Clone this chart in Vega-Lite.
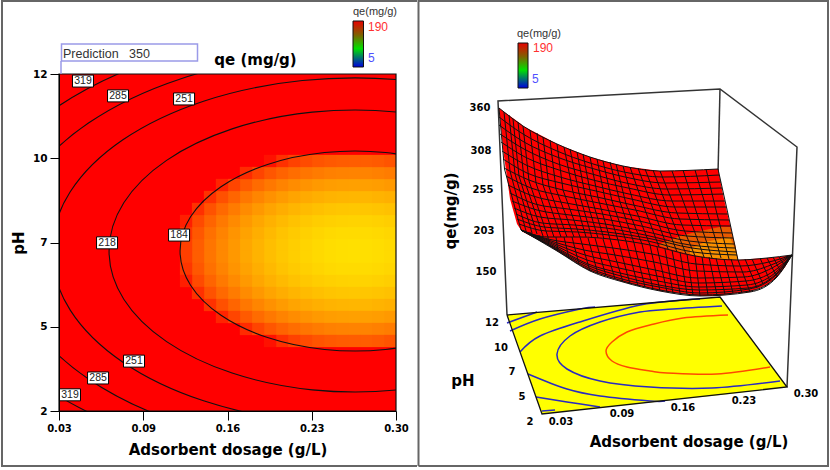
{"$schema":"https://vega.github.io/schema/vega-lite/v6.json","padding":{"left":-3,"top":-3,"right":0,"bottom":0},"spacing":21,"bounds":"flush","background":"white","config":{"font":"Liberation Sans"},
"datasets":{
"cells":[
{"d":0.2952,"p":6.93,"q":151.5},{"d":0.2856,"p":6.93,"q":150.7},{"d":0.276,"p":6.93,"q":150.3},{"d":0.2664,"p":6.93,"q":150.1},{"d":0.2568,"p":6.93,"q":150.3},{"d":0.2472,"p":6.93,"q":150.8},{"d":0.2375,"p":6.93,"q":151.6},{"d":0.2279,"p":6.93,"q":152.8},{"d":0.2183,"p":6.93,"q":154.3},{"d":0.2087,"p":6.93,"q":156},{"d":0.1991,"p":6.93,"q":158.1},{"d":0.1895,"p":6.93,"q":160.6},{"d":0.1798,"p":6.93,"q":163.3},{"d":0.1702,"p":6.93,"q":166.4},{"d":0.1606,"p":6.93,"q":169.8},{"d":0.151,"p":6.93,"q":173.5},{"d":0.1414,"p":6.93,"q":177.5},{"d":0.1318,"p":6.93,"q":181.8},
{"d":0.2952,"p":6.57,"q":151.5},{"d":0.2856,"p":6.57,"q":150.7},{"d":0.276,"p":6.57,"q":150.3},{"d":0.2664,"p":6.57,"q":150.1},{"d":0.2568,"p":6.57,"q":150.3},{"d":0.2472,"p":6.57,"q":150.8},{"d":0.2375,"p":6.57,"q":151.6},{"d":0.2279,"p":6.57,"q":152.8},{"d":0.2183,"p":6.57,"q":154.3},{"d":0.2087,"p":6.57,"q":156},{"d":0.1991,"p":6.57,"q":158.1},{"d":0.1895,"p":6.57,"q":160.6},{"d":0.1798,"p":6.57,"q":163.3},{"d":0.1702,"p":6.57,"q":166.4},{"d":0.1606,"p":6.57,"q":169.8},{"d":0.151,"p":6.57,"q":173.5},{"d":0.1414,"p":6.57,"q":177.5},{"d":0.1318,"p":6.57,"q":181.8},
{"d":0.2952,"p":7.282,"q":152.5},{"d":0.2856,"p":7.282,"q":151.7},{"d":0.276,"p":7.282,"q":151.2},{"d":0.2664,"p":7.282,"q":151.1},{"d":0.2568,"p":7.282,"q":151.3},{"d":0.2472,"p":7.282,"q":151.8},{"d":0.2375,"p":7.282,"q":152.6},{"d":0.2279,"p":7.282,"q":153.8},{"d":0.2183,"p":7.282,"q":155.2},{"d":0.2087,"p":7.282,"q":157},{"d":0.1991,"p":7.282,"q":159.1},{"d":0.1895,"p":7.282,"q":161.6},{"d":0.1798,"p":7.282,"q":164.3},{"d":0.1702,"p":7.282,"q":167.4},{"d":0.1606,"p":7.282,"q":170.7},{"d":0.151,"p":7.282,"q":174.4},{"d":0.1414,"p":7.282,"q":178.5},{"d":0.1318,"p":7.282,"q":182.8},
{"d":0.2952,"p":6.214,"q":152.5},{"d":0.2856,"p":6.214,"q":151.7},{"d":0.276,"p":6.214,"q":151.2},{"d":0.2664,"p":6.214,"q":151.1},{"d":0.2568,"p":6.214,"q":151.3},{"d":0.2472,"p":6.214,"q":151.8},{"d":0.2375,"p":6.214,"q":152.6},{"d":0.2279,"p":6.214,"q":153.8},{"d":0.2183,"p":6.214,"q":155.2},{"d":0.2087,"p":6.214,"q":157},{"d":0.1991,"p":6.214,"q":159.1},{"d":0.1895,"p":6.214,"q":161.6},{"d":0.1798,"p":6.214,"q":164.3},{"d":0.1702,"p":6.214,"q":167.4},{"d":0.1606,"p":6.214,"q":170.7},{"d":0.151,"p":6.214,"q":174.4},{"d":0.1414,"p":6.214,"q":178.5},{"d":0.1318,"p":6.214,"q":182.8},
{"d":0.2952,"p":7.638,"q":154.4},{"d":0.2856,"p":7.638,"q":153.7},{"d":0.276,"p":7.638,"q":153.2},{"d":0.2664,"p":7.638,"q":153.1},{"d":0.2568,"p":7.638,"q":153.3},{"d":0.2472,"p":7.638,"q":153.8},{"d":0.2375,"p":7.638,"q":154.6},{"d":0.2279,"p":7.638,"q":155.7},{"d":0.2183,"p":7.638,"q":157.2},{"d":0.2087,"p":7.638,"q":159},{"d":0.1991,"p":7.638,"q":161.1},{"d":0.1895,"p":7.638,"q":163.5},{"d":0.1798,"p":7.638,"q":166.3},{"d":0.1702,"p":7.638,"q":169.3},{"d":0.1606,"p":7.638,"q":172.7},{"d":0.151,"p":7.638,"q":176.4},{"d":0.1414,"p":7.638,"q":180.4},{"d":0.1318,"p":7.638,"q":184.8},
{"d":0.2952,"p":5.858,"q":154.4},{"d":0.2856,"p":5.858,"q":153.7},{"d":0.276,"p":5.858,"q":153.2},{"d":0.2664,"p":5.858,"q":153.1},{"d":0.2568,"p":5.858,"q":153.3},{"d":0.2472,"p":5.858,"q":153.8},{"d":0.2375,"p":5.858,"q":154.6},{"d":0.2279,"p":5.858,"q":155.7},{"d":0.2183,"p":5.858,"q":157.2},{"d":0.2087,"p":5.858,"q":159},{"d":0.1991,"p":5.858,"q":161.1},{"d":0.1895,"p":5.858,"q":163.5},{"d":0.1798,"p":5.858,"q":166.3},{"d":0.1702,"p":5.858,"q":169.3},{"d":0.1606,"p":5.858,"q":172.7},{"d":0.151,"p":5.858,"q":176.4},{"d":0.1414,"p":5.858,"q":180.4},{"d":0.1318,"p":5.858,"q":184.8},
{"d":0.2952,"p":7.994,"q":157.4},{"d":0.2856,"p":7.994,"q":156.6},{"d":0.276,"p":7.994,"q":156.1},{"d":0.2664,"p":7.994,"q":156},{"d":0.2568,"p":7.994,"q":156.2},{"d":0.2472,"p":7.994,"q":156.7},{"d":0.2375,"p":7.994,"q":157.5},{"d":0.2279,"p":7.994,"q":158.7},{"d":0.2183,"p":7.994,"q":160.1},{"d":0.2087,"p":7.994,"q":161.9},{"d":0.1991,"p":7.994,"q":164},{"d":0.1895,"p":7.994,"q":166.5},{"d":0.1798,"p":7.994,"q":169.2},{"d":0.1702,"p":7.994,"q":172.3},{"d":0.1606,"p":7.994,"q":175.6},{"d":0.151,"p":7.994,"q":179.3},{"d":0.1414,"p":7.994,"q":183.4},
{"d":0.2952,"p":5.502,"q":157.4},{"d":0.2856,"p":5.502,"q":156.6},{"d":0.276,"p":5.502,"q":156.1},{"d":0.2664,"p":5.502,"q":156},{"d":0.2568,"p":5.502,"q":156.2},{"d":0.2472,"p":5.502,"q":156.7},{"d":0.2375,"p":5.502,"q":157.5},{"d":0.2279,"p":5.502,"q":158.7},{"d":0.2183,"p":5.502,"q":160.1},{"d":0.2087,"p":5.502,"q":161.9},{"d":0.1991,"p":5.502,"q":164},{"d":0.1895,"p":5.502,"q":166.5},{"d":0.1798,"p":5.502,"q":169.2},{"d":0.1702,"p":5.502,"q":172.3},{"d":0.1606,"p":5.502,"q":175.6},{"d":0.151,"p":5.502,"q":179.3},{"d":0.1414,"p":5.502,"q":183.4},
{"d":0.2952,"p":8.35,"q":161.3},{"d":0.2856,"p":8.35,"q":160.5},{"d":0.276,"p":8.35,"q":160},{"d":0.2664,"p":8.35,"q":159.9},{"d":0.2568,"p":8.35,"q":160.1},{"d":0.2472,"p":8.35,"q":160.6},{"d":0.2375,"p":8.35,"q":161.4},{"d":0.2279,"p":8.35,"q":162.6},{"d":0.2183,"p":8.35,"q":164},{"d":0.2087,"p":8.35,"q":165.8},{"d":0.1991,"p":8.35,"q":167.9},{"d":0.1895,"p":8.35,"q":170.4},{"d":0.1798,"p":8.35,"q":173.1},{"d":0.1702,"p":8.35,"q":176.2},{"d":0.1606,"p":8.35,"q":179.6},{"d":0.151,"p":8.35,"q":183.3},
{"d":0.2952,"p":5.146,"q":161.3},{"d":0.2856,"p":5.146,"q":160.5},{"d":0.276,"p":5.146,"q":160},{"d":0.2664,"p":5.146,"q":159.9},{"d":0.2568,"p":5.146,"q":160.1},{"d":0.2472,"p":5.146,"q":160.6},{"d":0.2375,"p":5.146,"q":161.4},{"d":0.2279,"p":5.146,"q":162.6},{"d":0.2183,"p":5.146,"q":164},{"d":0.2087,"p":5.146,"q":165.8},{"d":0.1991,"p":5.146,"q":167.9},{"d":0.1895,"p":5.146,"q":170.4},{"d":0.1798,"p":5.146,"q":173.1},{"d":0.1702,"p":5.146,"q":176.2},{"d":0.1606,"p":5.146,"q":179.6},{"d":0.151,"p":5.146,"q":183.3},
{"d":0.2952,"p":8.706,"q":166.2},{"d":0.2856,"p":8.706,"q":165.4},{"d":0.276,"p":8.706,"q":164.9},{"d":0.2664,"p":8.706,"q":164.8},{"d":0.2568,"p":8.706,"q":165},{"d":0.2472,"p":8.706,"q":165.5},{"d":0.2375,"p":8.706,"q":166.3},{"d":0.2279,"p":8.706,"q":167.5},{"d":0.2183,"p":8.706,"q":168.9},{"d":0.2087,"p":8.706,"q":170.7},{"d":0.1991,"p":8.706,"q":172.8},{"d":0.1895,"p":8.706,"q":175.3},{"d":0.1798,"p":8.706,"q":178},{"d":0.1702,"p":8.706,"q":181},{"d":0.1606,"p":8.706,"q":184.4},
{"d":0.2952,"p":4.79,"q":166.2},{"d":0.2856,"p":4.79,"q":165.4},{"d":0.276,"p":4.79,"q":164.9},{"d":0.2664,"p":4.79,"q":164.8},{"d":0.2568,"p":4.79,"q":165},{"d":0.2472,"p":4.79,"q":165.5},{"d":0.2375,"p":4.79,"q":166.3},{"d":0.2279,"p":4.79,"q":167.5},{"d":0.2183,"p":4.79,"q":168.9},{"d":0.2087,"p":4.79,"q":170.7},{"d":0.1991,"p":4.79,"q":172.8},{"d":0.1895,"p":4.79,"q":175.3},{"d":0.1798,"p":4.79,"q":178},{"d":0.1702,"p":4.79,"q":181},{"d":0.1606,"p":4.79,"q":184.4},
{"d":0.2952,"p":9.062,"q":172.1},{"d":0.2856,"p":9.062,"q":171.3},{"d":0.276,"p":9.062,"q":170.8},{"d":0.2664,"p":9.062,"q":170.7},{"d":0.2568,"p":9.062,"q":170.9},{"d":0.2472,"p":9.062,"q":171.4},{"d":0.2375,"p":9.062,"q":172.2},{"d":0.2279,"p":9.062,"q":173.4},{"d":0.2183,"p":9.062,"q":174.8},{"d":0.2087,"p":9.062,"q":176.6},{"d":0.1991,"p":9.062,"q":178.7},{"d":0.1895,"p":9.062,"q":181.2},{"d":0.1798,"p":9.062,"q":183.9},
{"d":0.2952,"p":4.434,"q":172.1},{"d":0.2856,"p":4.434,"q":171.3},{"d":0.276,"p":4.434,"q":170.8},{"d":0.2664,"p":4.434,"q":170.7},{"d":0.2568,"p":4.434,"q":170.9},{"d":0.2472,"p":4.434,"q":171.4},{"d":0.2375,"p":4.434,"q":172.2},{"d":0.2279,"p":4.434,"q":173.4},{"d":0.2183,"p":4.434,"q":174.8},{"d":0.2087,"p":4.434,"q":176.6},{"d":0.1991,"p":4.434,"q":178.7},{"d":0.1895,"p":4.434,"q":181.2},{"d":0.1798,"p":4.434,"q":183.9},
{"d":0.2952,"p":9.418,"q":178.9},{"d":0.2856,"p":9.418,"q":178.1},{"d":0.276,"p":9.418,"q":177.6},{"d":0.2664,"p":9.418,"q":177.5},{"d":0.2568,"p":9.418,"q":177.7},{"d":0.2472,"p":9.418,"q":178.2},{"d":0.2375,"p":9.418,"q":179},{"d":0.2279,"p":9.418,"q":180.2},{"d":0.2183,"p":9.418,"q":181.6},{"d":0.2087,"p":9.418,"q":183.4},{"d":0.1991,"p":9.418,"q":185.5},
{"d":0.2952,"p":4.078,"q":178.9},{"d":0.2856,"p":4.078,"q":178.1},{"d":0.276,"p":4.078,"q":177.6},{"d":0.2664,"p":4.078,"q":177.5},{"d":0.2568,"p":4.078,"q":177.7},{"d":0.2472,"p":4.078,"q":178.2},{"d":0.2375,"p":4.078,"q":179},{"d":0.2279,"p":4.078,"q":180.2},{"d":0.2183,"p":4.078,"q":181.6},{"d":0.2087,"p":4.078,"q":183.4},{"d":0.1991,"p":4.078,"q":185.5}
],
"contours":[
{"l":184,"n":0,"d":0.3373,"p":9.317},{"l":184,"n":1,"d":0.2916,"p":9.671},{"l":184,"n":2,"d":0.2428,"p":9.671},{"l":184,"n":3,"d":0.1971,"p":9.317},{"l":184,"n":4,"d":0.1598,"p":8.656},{"l":184,"n":5,"d":0.1354,"p":7.763},{"l":184,"n":6,"d":0.127,"p":6.748},{"l":184,"n":7,"d":0.1354,"p":5.733},{"l":184,"n":8,"d":0.1598,"p":4.84},{"l":184,"n":9,"d":0.1971,"p":4.179},{"l":184,"n":10,"d":0.2428,"p":3.825},{"l":184,"n":11,"d":0.2916,"p":3.825},{"l":184,"n":12,"d":0.3373,"p":4.179},
{"l":218,"n":0,"d":0.3658,"p":10.371},{"l":218,"n":1,"d":0.3015,"p":10.869},{"l":218,"n":2,"d":0.2329,"p":10.869},{"l":218,"n":3,"d":0.1687,"p":10.371},{"l":218,"n":4,"d":0.1162,"p":9.438},{"l":218,"n":5,"d":0.0819,"p":8.179},{"l":218,"n":6,"d":0.0701,"p":6.748},{"l":218,"n":7,"d":0.0819,"p":5.317},{"l":218,"n":8,"d":0.1162,"p":4.058},{"l":218,"n":9,"d":0.1687,"p":3.125},{"l":218,"n":10,"d":0.2329,"p":2.627},{"l":218,"n":11,"d":0.3015,"p":2.627},{"l":218,"n":12,"d":0.3658,"p":3.125},
{"l":251,"n":0,"d":0.3886,"p":11.194},{"l":251,"n":1,"d":0.3094,"p":11.805},{"l":251,"n":2,"d":0.225,"p":11.805},{"l":251,"n":3,"d":0.1458,"p":11.194},{"l":251,"n":4,"d":0.0812,"p":10.049},{"l":251,"n":5,"d":0.039,"p":8.504},{"l":251,"n":6,"d":0.0244,"p":6.748},{"l":251,"n":7,"d":0.039,"p":4.992},{"l":251,"n":8,"d":0.0812,"p":3.447},{"l":251,"n":9,"d":0.1458,"p":2.302},{"l":251,"n":10,"d":0.225,"p":1.691},{"l":251,"n":11,"d":0.3094,"p":1.691},{"l":251,"n":12,"d":0.3886,"p":2.302},
{"l":285,"n":0,"d":0.4066,"p":11.862},{"l":285,"n":1,"d":0.3157,"p":12.564},{"l":285,"n":2,"d":0.2187,"p":12.564},{"l":285,"n":3,"d":0.1278,"p":11.862},{"l":285,"n":4,"d":0.0536,"p":10.545},{"l":285,"n":5,"d":0.0051,"p":8.768},{"l":285,"n":6,"d":-0.0116,"p":6.748},{"l":285,"n":7,"d":0.0051,"p":4.728},{"l":285,"n":8,"d":0.0536,"p":2.951},{"l":285,"n":9,"d":0.1278,"p":1.634},{"l":285,"n":10,"d":0.2187,"p":0.932},
{"l":319,"n":0,"d":0.2128,"p":13.266},{"l":319,"n":1,"d":0.111,"p":12.478},{"l":319,"n":2,"d":0.0278,"p":11.002},{"l":319,"n":3,"d":-0.0266,"p":9.011},{"l":319,"n":4,"d":-0.0453,"p":6.748},{"l":319,"n":5,"d":-0.0266,"p":4.485},{"l":319,"n":6,"d":0.0278,"p":2.494},{"l":319,"n":7,"d":0.111,"p":1.018}
],
"mesh":[
{"l":"c0","x":499,"y":109},{"l":"c0","x":504.5,"y":170},{"l":"c0","x":521,"y":231},{"l":"c1","x":504,"y":113},{"l":"c1","x":510,"y":172},{"l":"c1","x":526,"y":232},{"l":"c2","x":509,"y":116},{"l":"c2","x":515,"y":175},{"l":"c2","x":532,"y":234},{"l":"c3","x":513,"y":120},{"l":"c3","x":519,"y":177},{"l":"c3","x":537,"y":235},{"l":"c4","x":518,"y":123},{"l":"c4","x":524,"y":180},{"l":"c4","x":543,"y":237},{"l":"c5","x":523,"y":127},{"l":"c5","x":529,"y":182},{"l":"c5","x":548,"y":238},{"l":"c6","x":530,"y":131},{"l":"c6","x":536,"y":184},{"l":"c6","x":554,"y":238},{"l":"c7","x":537,"y":134},{"l":"c7","x":543,"y":186},{"l":"c7","x":561,"y":238},{"l":"c8","x":543,"y":138},{"l":"c8","x":549,"y":188},{"l":"c8","x":567,"y":238},{"l":"c9","x":550,"y":141},{"l":"c9","x":556,"y":190},{"l":"c9","x":574,"y":238},{"l":"c10","x":557,"y":145},{"l":"c10","x":563,"y":191},{"l":"c10","x":580,"y":238},{"l":"c11","x":564,"y":148},{"l":"c11","x":573,"y":193},{"l":"c11","x":586,"y":238},{"l":"c12","x":570,"y":150},{"l":"c12","x":579,"y":194},{"l":"c12","x":592,"y":239},{"l":"c13","x":577,"y":153},{"l":"c13","x":585,"y":196},{"l":"c13","x":598,"y":239},{"l":"c14","x":583,"y":155},{"l":"c14","x":591,"y":197},{"l":"c14","x":604,"y":240},{"l":"c15","x":590,"y":158},{"l":"c15","x":598,"y":199},{"l":"c15","x":610,"y":240},{"l":"c16","x":597,"y":160},{"l":"c16","x":605,"y":200},{"l":"c16","x":618,"y":241},{"l":"c17","x":603,"y":162},{"l":"c17","x":612,"y":202},{"l":"c17","x":626,"y":242},{"l":"c18","x":610,"y":163},{"l":"c18","x":620,"y":203},{"l":"c18","x":634,"y":244},{"l":"c19","x":616,"y":165},{"l":"c19","x":626,"y":205},{"l":"c19","x":642,"y":245},{"l":"c20","x":623,"y":167},{"l":"c20","x":634,"y":206},{"l":"c20","x":650,"y":246},{"l":"c21","x":630,"y":168},{"l":"c21","x":644,"y":208},{"l":"c21","x":659,"y":248},{"l":"c22","x":638,"y":169},{"l":"c22","x":653,"y":210},{"l":"c22","x":668,"y":250},{"l":"c23","x":645,"y":170},{"l":"c23","x":661,"y":211},{"l":"c23","x":677,"y":253},{"l":"c24","x":653,"y":171},{"l":"c24","x":669,"y":213},{"l":"c24","x":686,"y":255},{"l":"c25","x":660,"y":172},{"l":"c25","x":677,"y":214},{"l":"c25","x":695,"y":257},{"l":"c26","x":672,"y":172},{"l":"c26","x":688,"y":215},{"l":"c26","x":704,"y":258},{"l":"c27","x":683,"y":171},{"l":"c27","x":697,"y":215},{"l":"c27","x":712,"y":259},{"l":"c28","x":695,"y":171},{"l":"c28","x":708,"y":215},{"l":"c28","x":721,"y":259},{"l":"c29","x":706,"y":170},{"l":"c29","x":717,"y":215},{"l":"c29","x":729,"y":260},{"l":"c30","x":718,"y":170},{"l":"c30","x":728,"y":215},{"l":"c30","x":738,"y":261},
{"l":"f1","x":530,"y":233},{"l":"f1","x":530.5,"y":236},{"l":"f2","x":539,"y":236},{"l":"f2","x":539.5,"y":241},{"l":"f3","x":548,"y":238},{"l":"f3","x":548.5,"y":246},{"l":"f4","x":556,"y":238},{"l":"f4","x":558,"y":252},{"l":"f5","x":564,"y":238},{"l":"f5","x":569,"y":259},{"l":"f6","x":572,"y":238},{"l":"f6","x":579,"y":265},{"l":"f7","x":580,"y":238},{"l":"f7","x":590,"y":272},{"l":"f8","x":588,"y":239},{"l":"f8","x":598,"y":275},{"l":"f9","x":595,"y":239},{"l":"f9","x":606,"y":277},{"l":"f10","x":603,"y":240},{"l":"f10","x":615,"y":280},{"l":"f11","x":610,"y":240},{"l":"f11","x":623,"y":283},{"l":"f12","x":618,"y":241},{"l":"f12","x":630,"y":285},{"l":"f13","x":626,"y":242},{"l":"f13","x":638,"y":287},{"l":"f14","x":634,"y":244},{"l":"f14","x":645,"y":288},{"l":"f15","x":642,"y":245},{"l":"f15","x":653,"y":290},{"l":"f16","x":650,"y":246},{"l":"f16","x":660,"y":292},{"l":"f17","x":657,"y":248},{"l":"f17","x":667,"y":293},{"l":"f18","x":665,"y":250},{"l":"f18","x":673,"y":294},{"l":"f19","x":672,"y":251},{"l":"f19","x":680,"y":294},{"l":"f20","x":680,"y":253},{"l":"f20","x":687,"y":295},{"l":"f21","x":687,"y":255},{"l":"f21","x":693,"y":296},{"l":"f22","x":695,"y":257},{"l":"f22","x":700,"y":297},{"l":"f23","x":702,"y":258},{"l":"f23","x":708,"y":296},{"l":"f24","x":709,"y":258},{"l":"f24","x":717,"y":296},{"l":"f25","x":716,"y":259},{"l":"f25","x":725,"y":295},{"l":"f26","x":724,"y":260},{"l":"f26","x":733,"y":294},{"l":"f27","x":731,"y":260},{"l":"f27","x":742,"y":294},{"l":"f28","x":738,"y":261},{"l":"f28","x":750,"y":293},{"l":"f29","x":745,"y":260},{"l":"f29","x":757,"y":289},{"l":"f30","x":752,"y":260},{"l":"f30","x":763,"y":285},{"l":"f31","x":760,"y":259},{"l":"f31","x":770,"y":282},{"l":"f32","x":767,"y":259},{"l":"f32","x":777,"y":278},{"l":"f33","x":773,"y":258},{"l":"f33","x":781,"y":273},{"l":"f34","x":779,"y":258},{"l":"f34","x":785,"y":267},{"l":"f35","x":786,"y":257},{"l":"f35","x":788,"y":262}
],
"meshRows":[
{"l":"r0","x":499,"y":109},{"l":"r0","x":523,"y":127},{"l":"r0","x":557,"y":145},{"l":"r0","x":590,"y":158},{"l":"r0","x":623,"y":167},{"l":"r0","x":660,"y":172},{"l":"r0","x":718,"y":170},
{"l":"r1","x":499,"y":118},{"l":"r1","x":523,"y":135},{"l":"r1","x":557,"y":152},{"l":"r1","x":590,"y":164},{"l":"r1","x":624,"y":173},{"l":"r1","x":662,"y":178},{"l":"r1","x":719,"y":176},
{"l":"r2","x":499,"y":126},{"l":"r2","x":524,"y":143},{"l":"r2","x":557,"y":158},{"l":"r2","x":591,"y":169},{"l":"r2","x":625,"y":178},{"l":"r2","x":665,"y":184},{"l":"r2","x":721,"y":183},
{"l":"r3","x":500,"y":135},{"l":"r3","x":524,"y":150},{"l":"r3","x":558,"y":165},{"l":"r3","x":592,"y":175},{"l":"r3","x":626,"y":184},{"l":"r3","x":667,"y":190},{"l":"r3","x":722,"y":189},
{"l":"r4","x":501,"y":143},{"l":"r4","x":525,"y":158},{"l":"r4","x":559,"y":171},{"l":"r4","x":593,"y":181},{"l":"r4","x":628,"y":189},{"l":"r4","x":670,"y":196},{"l":"r4","x":724,"y":195},
{"l":"r5","x":502,"y":152},{"l":"r5","x":526,"y":166},{"l":"r5","x":560,"y":178},{"l":"r5","x":595,"y":187},{"l":"r5","x":629,"y":195},{"l":"r5","x":672,"y":202},{"l":"r5","x":725,"y":202},
{"l":"r6","x":503,"y":160},{"l":"r6","x":527,"y":174},{"l":"r6","x":561,"y":184},{"l":"r6","x":596,"y":192},{"l":"r6","x":631,"y":200},{"l":"r6","x":675,"y":208},{"l":"r6","x":726,"y":208},
{"l":"r7","x":504,"y":169},{"l":"r7","x":529,"y":181},{"l":"r7","x":563,"y":191},{"l":"r7","x":597,"y":198},{"l":"r7","x":633,"y":206},{"l":"r7","x":677,"y":214},{"l":"r7","x":728,"y":215},
{"l":"r8","x":506,"y":177},{"l":"r8","x":531,"y":189},{"l":"r8","x":564,"y":197},{"l":"r8","x":599,"y":204},{"l":"r8","x":635,"y":211},{"l":"r8","x":680,"y":220},{"l":"r8","x":729,"y":221},
{"l":"r9","x":508,"y":186},{"l":"r9","x":533,"y":197},{"l":"r9","x":566,"y":204},{"l":"r9","x":600,"y":210},{"l":"r9","x":637,"y":217},{"l":"r9","x":682,"y":226},{"l":"r9","x":731,"y":227},
{"l":"r10","x":510,"y":194},{"l":"r10","x":535,"y":205},{"l":"r10","x":568,"y":210},{"l":"r10","x":602,"y":215},{"l":"r10","x":639,"y":222},{"l":"r10","x":685,"y":232},{"l":"r10","x":732,"y":234},
{"l":"r11","x":512,"y":202},{"l":"r11","x":537,"y":211},{"l":"r11","x":570,"y":216},{"l":"r11","x":604,"y":220},{"l":"r11","x":641,"y":227},{"l":"r11","x":687,"y":237},{"l":"r11","x":733,"y":239},
{"l":"r12","x":514,"y":209},{"l":"r12","x":540,"y":218},{"l":"r12","x":572,"y":221},{"l":"r12","x":605,"y":225},{"l":"r12","x":643,"y":232},{"l":"r12","x":689,"y":242},{"l":"r12","x":734,"y":245},
{"l":"r13","x":516,"y":215},{"l":"r13","x":542,"y":224},{"l":"r13","x":574,"y":226},{"l":"r13","x":606,"y":229},{"l":"r13","x":645,"y":236},{"l":"r13","x":690,"y":246},{"l":"r13","x":735,"y":249},
{"l":"r14","x":517,"y":220},{"l":"r14","x":544,"y":228},{"l":"r14","x":576,"y":230},{"l":"r14","x":607,"y":233},{"l":"r14","x":647,"y":239},{"l":"r14","x":692,"y":249},{"l":"r14","x":736,"y":253},
{"l":"r15","x":519,"y":225},{"l":"r15","x":546,"y":232},{"l":"r15","x":578,"y":233},{"l":"r15","x":609,"y":236},{"l":"r15","x":648,"y":242},{"l":"r15","x":693,"y":253},{"l":"r15","x":737,"y":256},
{"l":"r16","x":521,"y":231},{"l":"r16","x":548,"y":238},{"l":"r16","x":580,"y":238},{"l":"r16","x":610,"y":240},{"l":"r16","x":650,"y":246},{"l":"r16","x":695,"y":257},{"l":"r16","x":738,"y":261},{"l":"r16","x":767,"y":259},{"l":"r16","x":792,"y":256},
{"l":"h1","x":521,"y":231},{"l":"h1","x":548,"y":240},{"l":"h1","x":582,"y":245},{"l":"h1","x":613,"y":249},{"l":"h1","x":652,"y":255},{"l":"h1","x":696,"y":265},{"l":"h1","x":740,"y":267},{"l":"h1","x":769,"y":263},{"l":"h1","x":792,"y":256},
{"l":"h2","x":521,"y":231},{"l":"h2","x":548,"y":241},{"l":"h2","x":584,"y":251},{"l":"h2","x":615,"y":256},{"l":"h2","x":654,"y":263},{"l":"h2","x":697,"y":272},{"l":"h2","x":743,"y":273},{"l":"h2","x":771,"y":266},{"l":"h2","x":792,"y":256},
{"l":"h3","x":521,"y":231},{"l":"h3","x":548,"y":242},{"l":"h3","x":585,"y":256},{"l":"h3","x":617,"y":263},{"l":"h3","x":655,"y":271},{"l":"h3","x":698,"y":279},{"l":"h3","x":744,"y":278},{"l":"h3","x":772,"y":269},{"l":"h3","x":792,"y":256},
{"l":"h4","x":521,"y":231},{"l":"h4","x":548,"y":243},{"l":"h4","x":587,"y":261},{"l":"h4","x":619,"y":269},{"l":"h4","x":657,"y":277},{"l":"h4","x":698,"y":284},{"l":"h4","x":746,"y":282},{"l":"h4","x":774,"y":272},{"l":"h4","x":792,"y":256},
{"l":"h5","x":521,"y":231},{"l":"h5","x":548,"y":244},{"l":"h5","x":588,"y":265},{"l":"h5","x":620,"y":274},{"l":"h5","x":658,"y":282},{"l":"h5","x":699,"y":288},{"l":"h5","x":747,"y":286},{"l":"h5","x":775,"y":274},{"l":"h5","x":792,"y":256},
{"l":"h6","x":521,"y":231},{"l":"h6","x":548,"y":245},{"l":"h6","x":589,"y":267},{"l":"h6","x":621,"y":277},{"l":"h6","x":659,"y":286},{"l":"h6","x":699,"y":291},{"l":"h6","x":748,"y":289},{"l":"h6","x":776,"y":275},{"l":"h6","x":792,"y":256},
{"l":"h7","x":521,"y":231},{"l":"h7","x":548,"y":245.5},{"l":"h7","x":589,"y":269},{"l":"h7","x":622,"y":280},{"l":"h7","x":659,"y":288},{"l":"h7","x":700,"y":294},{"l":"h7","x":749,"y":290},{"l":"h7","x":776,"y":276},{"l":"h7","x":792,"y":256},
{"l":"h8","x":521,"y":231},{"l":"h8","x":548,"y":246},{"l":"h8","x":590,"y":271},{"l":"h8","x":623,"y":282},{"l":"h8","x":660,"y":291},{"l":"h8","x":700,"y":296},{"l":"h8","x":750,"y":292},{"l":"h8","x":777,"y":277},{"l":"h8","x":792,"y":256},
{"l":"h9","x":521,"y":231},{"l":"h9","x":557,"y":252},{"l":"h9","x":590,"y":272},{"l":"h9","x":623,"y":283},{"l":"h9","x":660,"y":292},{"l":"h9","x":700,"y":297},{"l":"h9","x":750,"y":293},{"l":"h9","x":777,"y":278},{"l":"h9","x":792,"y":256}
]
},
"hconcat":[
{"width":337,"height":337,"view":{"stroke":null},
"encoding":{
"x":{"field":"d","type":"quantitative","scale":{"domain":[0.03,0.3],"nice":false,"zero":false},"axis":{"zindex":1,"values":[0.03,0.0975,0.165,0.2325,0.3],"labelExpr":"format(floor(datum.value*100+0.000001)/100,'.2f')","grid":false,"title":"Adsorbent dosage (g/L)","titleFont":"DejaVu Sans","titleFontWeight":"bold","titleFontSize":15,"titleColor":"black","titlePadding":9,"labelFont":"DejaVu Sans","labelFontWeight":"bold","labelFontSize":10,"labelColor":"black","tickSize":9,"tickColor":"black","domainColor":"black","labelPadding":3,"labelFlush":false}},
"y":{"field":"p","type":"quantitative","scale":{"domain":[2,12],"nice":false,"zero":false},"axis":{"zindex":1,"values":[2,4.5,7,9.5,12],"format":".0f","grid":false,"title":"pH","titleFont":"DejaVu Sans","titleFontWeight":"bold","titleFontSize":15,"titleColor":"black","titlePadding":6,"labelFont":"DejaVu Sans","labelFontWeight":"bold","labelFontSize":10.5,"labelColor":"black","tickSize":9,"tickColor":"black","domainColor":"black","labelPadding":3}}
},
"layer":[
{"data":{"values":[{"d":-0.01727,"d2":0.31683,"p":14.2255,"p2":0.2789}]},"mark":{"type":"rect","fill":"white"},"encoding":{"x2":{"field":"d2"},"y2":{"field":"p2"}}},
{"data":{"values":[{"n":0,"d":0.31683,"p":14.166},{"n":1,"d":-0.01567,"p":14.166},{"n":2,"d":-0.01567,"p":0.368},{"n":3,"d":0.31683,"p":0.368}]},"mark":{"type":"line","color":"#666666","strokeWidth":2},"encoding":{"order":{"field":"n"}}},
{"data":{"values":[{"d":0.03,"d2":0.3,"p":2,"p2":12}]},"mark":{"type":"rect","fill":"#ff0000"},"encoding":{"x2":{"field":"d2"},"y2":{"field":"p2"}}},
{"data":{"name":"cells"},"mark":{"type":"rect","width":12.3,"height":12.3,"clip":true},"encoding":{"color":{"field":"q","type":"quantitative","scale":{"domain":[150,186],"range":["#ffe000","#ff0000"],"clamp":true},"legend":null}}},
{"data":{"name":"contours"},"mark":{"type":"line","color":"#111111","strokeWidth":1.1,"interpolate":"cardinal","clip":true},"encoding":{"detail":{"field":"l"},"order":{"field":"n"}}},
{"data":{"values":[{"d":0.03,"d2":0.3,"p":2,"p2":12}]},"mark":{"type":"rect","fillOpacity":0,"stroke":"#111111","strokeWidth":1.2},"encoding":{"x2":{"field":"d2"},"y2":{"field":"p2"}}},
{"data":{"values":[{"t":"319","d":0.0492,"p":11.79},{"t":"285","d":0.0773,"p":11.35},{"t":"251","d":0.1302,"p":11.26},{"t":"184","d":0.1262,"p":7.22},{"t":"218","d":0.0685,"p":6.99},{"t":"251","d":0.0901,"p":3.48},{"t":"285","d":0.0613,"p":2.98},{"t":"319","d":0.0388,"p":2.48}]},"layer":[
{"mark":{"type":"rect","width":21,"height":12,"fill":"white","stroke":"black","strokeWidth":1}},
{"mark":{"type":"text","font":"Liberation Sans","fontSize":10.5,"color":"#222222"},"encoding":{"text":{"field":"t"}}}
]},
{"data":{"values":[{"d":0.032,"d2":0.14097,"p":12.89,"p2":12.386}]},"mark":{"type":"rect","fillOpacity":0,"stroke":"#9a9ae8","strokeWidth":1.5},"encoding":{"x2":{"field":"d2"},"y2":{"field":"p2"}}},
{"data":{"values":[{"d":0.0316,"p":12,"p2":12.386}]},"mark":{"type":"rule","color":"#9a9ae8","strokeWidth":1.5},"encoding":{"y2":{"field":"p2"}}},
{"data":{"values":[{"t":"Prediction\u00a0\u00a0\u00a0350","d":0.0332,"p":12.593}]},"mark":{"type":"text","align":"left","font":"Liberation Sans","fontSize":12.5,"color":"#333333"},"encoding":{"text":{"field":"t"}}},
{"data":{"values":[{"t":"qe (mg/g)","d":0.18743,"p":12.415}]},"mark":{"type":"text","font":"DejaVu Sans","fontWeight":"bold","fontSize":15,"color":"black"},"encoding":{"text":{"field":"t"}}},
{"data":{"values":[{"d":0.26555,"d2":0.27396,"p":13.573,"p2":12.208}]},"mark":{"type":"rect","stroke":"#111111","strokeWidth":1,"color":{"gradient":"linear","x1":0,"y1":0,"x2":0,"y2":1,"stops":[{"offset":0,"color":"#e80000"},{"offset":0.3,"color":"#806000"},{"offset":0.6,"color":"#00e000"},{"offset":0.8,"color":"#007070"},{"offset":1,"color":"#0000e0"}]}},"encoding":{"x2":{"field":"d2"},"y2":{"field":"p2"}}},
{"data":{"values":[{"t":"qe(mg/g)","d":0.28317,"p":13.84}]},"mark":{"type":"text","font":"Liberation Sans","fontSize":11,"color":"#333333"},"encoding":{"text":{"field":"t"}}},
{"data":{"values":[{"t":"190","d":0.27756,"p":13.395}]},"mark":{"type":"text","align":"left","font":"Liberation Sans","fontSize":12,"color":"#ff3030"},"encoding":{"text":{"field":"t"}}},
{"data":{"values":[{"t":"5","d":0.27756,"p":12.475}]},"mark":{"type":"text","align":"left","font":"Liberation Sans","fontSize":12,"color":"#5050ff"},"encoding":{"text":{"field":"t"}}}
]},
{"width":413,"height":337,"view":{"stroke":null},
"encoding":{
"x":{"field":"x","type":"quantitative","scale":{"domain":[417,830],"nice":false,"zero":false},"axis":null},
"y":{"field":"y","type":"quantitative","scale":{"domain":[412,75],"nice":false,"zero":false},"axis":null}
},
"layer":[
{"data":{"values":[{"n":0,"x":418.5,"y":467},{"n":1,"x":418.5,"y":2},{"n":2,"x":828,"y":2},{"n":3,"x":828,"y":467},{"n":4,"x":418.5,"y":467}]},"mark":{"type":"line","color":"#666666","strokeWidth":2},"encoding":{"order":{"field":"n"}}},
{"data":{"values":[{"l":"a","n":0,"x":507,"y":316},{"l":"a","n":1,"x":498,"y":102},{"l":"a","n":2,"x":720,"y":90},{"l":"a","n":3,"x":797,"y":148},{"l":"a","n":4,"x":787,"y":388},{"l":"b","n":0,"x":720,"y":90},{"l":"b","n":1,"x":718,"y":175}]},"mark":{"type":"line","color":"#333333","strokeWidth":1.5},"encoding":{"detail":{"field":"l"},"order":{"field":"n"}}},
{"data":{"values":[{"x":507,"y":316,"y2":316},{"x":542,"y":313,"y2":415},{"x":720,"y":298,"y2":396},{"x":787,"y":388,"y2":388}]},"mark":{"type":"area","color":"#ffff00"},"encoding":{"y2":{"field":"y2"}}},
{"data":{"values":[{"l":"a","n":0,"x":722,"y":307},{"l":"a","n":1,"x":673,"y":310},{"l":"a","n":2,"x":640,"y":313},{"l":"a","n":3,"x":600,"y":323},{"l":"a","n":4,"x":570,"y":337},{"l":"a","n":5,"x":557,"y":355},{"l":"a","n":6,"x":567,"y":370},{"l":"a","n":7,"x":600,"y":382},{"l":"a","n":8,"x":650,"y":388},{"l":"a","n":9,"x":712,"y":389},{"l":"a","n":10,"x":780,"y":382},
{"l":"b","n":0,"x":700,"y":300},{"l":"b","n":1,"x":683,"y":301},{"l":"b","n":2,"x":640,"y":306},{"l":"b","n":3,"x":583,"y":322},{"l":"b","n":4,"x":540,"y":337},{"l":"b","n":5,"x":520,"y":353},
{"l":"c","n":0,"x":528,"y":375},{"l":"c","n":1,"x":567,"y":390},{"l":"c","n":2,"x":600,"y":397},{"l":"c","n":3,"x":650,"y":402},{"l":"c","n":4,"x":665,"y":402},
{"l":"d","n":0,"x":510,"y":332},{"l":"d","n":1,"x":540,"y":320},{"l":"d","n":2,"x":580,"y":310},{"l":"d","n":3,"x":595,"y":308},
{"l":"e","n":0,"x":536,"y":398},{"l":"e","n":1,"x":567,"y":403},{"l":"e","n":2,"x":600,"y":408},
{"l":"f","n":0,"x":507,"y":324},{"l":"f","n":1,"x":537,"y":313},
{"l":"g","n":0,"x":542,"y":412},{"l":"g","n":1,"x":555,"y":411}]},"mark":{"type":"line","color":"#2a2ac0","strokeWidth":1.5,"interpolate":"cardinal"},"encoding":{"detail":{"field":"l"},"order":{"field":"n"}}},
{"data":{"values":[{"n":0,"x":728,"y":316},{"n":1,"x":683,"y":319},{"n":2,"x":650,"y":326},{"n":3,"x":627,"y":333},{"n":4,"x":612,"y":343},{"n":5,"x":606,"y":352},{"n":6,"x":612,"y":362},{"n":7,"x":627,"y":368},{"n":8,"x":650,"y":372},{"n":9,"x":667,"y":374},{"n":10,"x":717,"y":375},{"n":11,"x":770,"y":368}]},"mark":{"type":"line","color":"#ff4a00","strokeWidth":1.5,"interpolate":"cardinal"},"encoding":{"order":{"field":"n"}}},
{"data":{"values":[{"n":0,"x":507,"y":316},{"n":1,"x":720,"y":298},{"n":2,"x":787,"y":388},{"n":3,"x":542,"y":415},{"n":4,"x":507,"y":316}]},"mark":{"type":"line","color":"#111111","strokeWidth":1.3},"encoding":{"order":{"field":"n"}}},
{"data":{"values":[{"x":499,"y":109,"y2":109},{"x":503,"y":112,"y2":150},{"x":510,"y":117,"y2":200},{"x":517,"y":122,"y2":225},{"x":521,"y":125,"y2":231},{"x":523,"y":127,"y2":233},{"x":548,"y":140,"y2":246},{"x":557,"y":145,"y2":252},{"x":590,"y":158,"y2":272},{"x":623,"y":167,"y2":283},{"x":660,"y":172,"y2":292},{"x":700,"y":171,"y2":297},{"x":718,"y":170,"y2":297},{"x":724,"y":200,"y2":296},{"x":731,"y":230,"y2":295},{"x":738,"y":261,"y2":294},{"x":750,"y":260,"y2":293},{"x":767,"y":259,"y2":286},{"x":777,"y":258,"y2":278},{"x":785,"y":257,"y2":268},{"x":792,"y":256,"y2":256}]},"mark":{"type":"area","color":"#ff0000"},"encoding":{"y2":{"field":"y2"}}},
{"data":{"values":[{"x":660,"y":245,"y2":247},{"x":680,"y":237,"y2":253},{"x":700,"y":232,"y2":258},{"x":720,"y":228,"y2":260},{"x":730,"y":228,"y2":260},{"x":735,"y":245,"y2":261},{"x":738,"y":260,"y2":261}]},"mark":{"type":"area","color":"#e85a00"},"encoding":{"y2":{"field":"y2"}}},
{"data":{"values":[{"x":690,"y":250,"y2":255},{"x":705,"y":243,"y2":258},{"x":720,"y":240,"y2":260},{"x":730,"y":238,"y2":260},{"x":737,"y":255,"y2":261}]},"mark":{"type":"area","color":"#f89000"},"encoding":{"y2":{"field":"y2"}}},
{"data":{"name":"mesh"},"mark":{"type":"line","color":"#111111","strokeWidth":1},"encoding":{"detail":{"field":"l"}}},
{"data":{"name":"meshRows"},"mark":{"type":"line","color":"#111111","strokeWidth":1,"interpolate":"monotone"},"encoding":{"detail":{"field":"l"}}},
{"data":{"values":[{"t":"360","x":480,"y":109},{"t":"308","x":481,"y":152},{"t":"255","x":483,"y":191},{"t":"203","x":484,"y":232},{"t":"150","x":486,"y":273},{"t":"12","x":492,"y":324},{"t":"10","x":501,"y":349},{"t":"7","x":512,"y":373},{"t":"5","x":522,"y":398},{"t":"2","x":530,"y":423},{"t":"0.03","x":561,"y":423},{"t":"0.09","x":622,"y":415},{"t":"0.16","x":683,"y":409},{"t":"0.23","x":744,"y":402},{"t":"0.30","x":806,"y":395}]},"mark":{"type":"text","font":"DejaVu Sans","fontWeight":"bold","fontSize":10,"color":"black"},"encoding":{"text":{"field":"t"}}},
{"data":{"values":[{"t":"Adsorbent dosage (g/L)","x":689,"y":443},{"t":"pH","x":463,"y":382}]},"mark":{"type":"text","font":"DejaVu Sans","fontWeight":"bold","fontSize":15,"color":"black"},"encoding":{"text":{"field":"t"}}},
{"data":{"values":[{"t":"qe(mg/g)","x":451,"y":212}]},"mark":{"type":"text","font":"DejaVu Sans","fontWeight":"bold","fontSize":15,"angle":270,"color":"black"},"encoding":{"text":{"field":"t"}}},
{"data":{"values":[{"x":518,"x2":528,"y":44,"y2":89}]},"mark":{"type":"rect","stroke":"#111111","strokeWidth":1,"color":{"gradient":"linear","x1":0,"y1":0,"x2":0,"y2":1,"stops":[{"offset":0,"color":"#e80000"},{"offset":0.3,"color":"#806000"},{"offset":0.6,"color":"#00e000"},{"offset":0.8,"color":"#007070"},{"offset":1,"color":"#0000e0"}]}},"encoding":{"x2":{"field":"x2"},"y2":{"field":"y2"}}},
{"data":{"values":[{"t":"qe(mg/g)","x":539,"y":35}]},"mark":{"type":"text","font":"Liberation Sans","fontSize":11,"color":"#333333"},"encoding":{"text":{"field":"t"}}},
{"data":{"values":[{"t":"190","x":533,"y":49}]},"mark":{"type":"text","align":"left","font":"Liberation Sans","fontSize":12,"color":"#ff3030"},"encoding":{"text":{"field":"t"}}},
{"data":{"values":[{"t":"5","x":532,"y":80}]},"mark":{"type":"text","align":"left","font":"Liberation Sans","fontSize":12,"color":"#5050ff"},"encoding":{"text":{"field":"t"}}}
]}
]}
